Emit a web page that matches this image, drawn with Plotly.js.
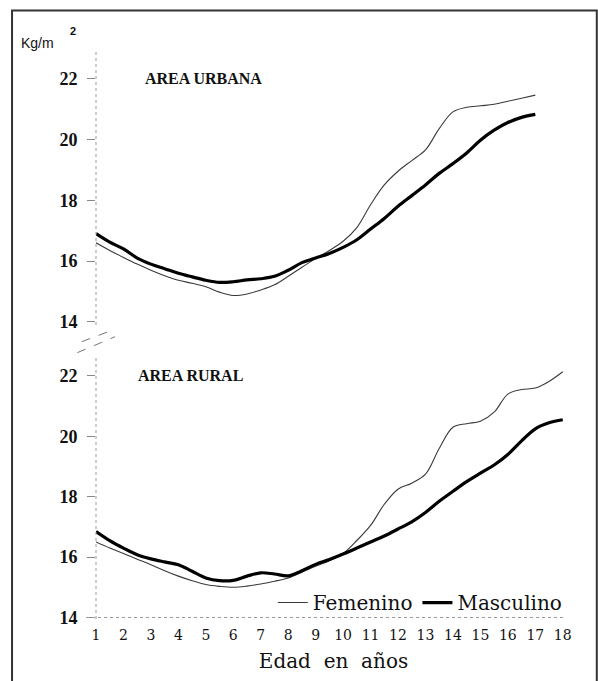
<!DOCTYPE html>
<html>
<head>
<meta charset="utf-8">
<script src="https://cdn.plot.ly/plotly-3.0.1.min.js"></script>
<style>html,body{margin:0;padding:0;background:#fff;}#chart{width:598px;height:681px;}</style>
</head>
<body>
<div id="chart"></div>
<script>
// Ages (years)
const edadUrbana = [1,1.5,2,2.5,3,3.5,4,4.5,5,5.5,6,6.5,7,7.5,8,8.5,9,9.5,10,10.5,11,11.5,12,12.5,13,13.5,14,14.5,15,15.5,16,16.5,17];
const edadRural  = [1,1.5,2,2.5,3,3.5,4,4.5,5,5.5,6,6.5,7,7.5,8,8.5,9,9.5,10,10.5,11,11.5,12,12.5,13,13.5,14,14.5,15,15.5,16,16.5,17,17.5,18];

// BMI (kg/m2) - Area urbana
const femUrbana  = [16.6,16.35,16.12,15.9,15.7,15.52,15.37,15.27,15.16,14.98,14.87,14.92,15.05,15.22,15.5,15.8,16.08,16.35,16.65,17.1,17.85,18.5,18.95,19.3,19.65,20.35,20.9,21.05,21.1,21.15,21.25,21.35,21.45];
const mascUrbana = [16.9,16.62,16.4,16.1,15.9,15.75,15.6,15.48,15.37,15.3,15.32,15.38,15.42,15.5,15.7,15.95,16.1,16.25,16.45,16.7,17.05,17.4,17.8,18.15,18.5,18.88,19.2,19.55,19.97,20.3,20.55,20.72,20.82];

// BMI (kg/m2) - Area rural
const femRural  = [16.5,16.3,16.12,15.93,15.75,15.55,15.37,15.22,15.09,15.03,15.0,15.04,15.11,15.2,15.31,15.5,15.7,15.88,16.12,16.55,17.05,17.75,18.25,18.45,18.75,19.6,20.3,20.42,20.5,20.8,21.4,21.55,21.6,21.82,22.14];
const mascRural = [16.85,16.55,16.3,16.08,15.94,15.84,15.75,15.53,15.31,15.22,15.23,15.37,15.48,15.44,15.38,15.55,15.76,15.92,16.1,16.3,16.5,16.7,16.93,17.17,17.48,17.85,18.18,18.5,18.78,19.05,19.4,19.85,20.25,20.45,20.55];

const xTicks = [1,2,3,4,5,6,7,8,9,10,11,12,13,14,15,16,17,18];
const yTicks = [14,16,18,20,22];
const seriesNames = ['Femenino','Masculino'];

// layout geometry (pixels)
const W = 598, H = 681;
const L = 96, R = 571.2, T = 50.5, B = 619.5;
const px = v => (v - L) / (R - L);
const py = v => (B - v) / (B - T);

const femLine  = {color:'#3a3a3a', width:1.1, shape:'spline', smoothing:1};
const mascLine = {color:'#000', width:3.2, shape:'spline', smoothing:1};

const traces = [
  {x: edadUrbana, y: femUrbana,  xaxis:'x', yaxis:'y',  mode:'lines', name: seriesNames[0], line: femLine,  legendrank:1},
  {x: edadUrbana, y: mascUrbana, xaxis:'x', yaxis:'y',  mode:'lines', name: seriesNames[1], line: mascLine, legendrank:2},
  {x: edadRural,  y: femRural,   xaxis:'x', yaxis:'y2', mode:'lines', name: seriesNames[0], line: femLine,  showlegend:false},
  {x: edadRural,  y: mascRural,  xaxis:'x', yaxis:'y2', mode:'lines', name: seriesNames[1], line: mascLine, showlegend:false}
];

const yTickFont = {family:'"Liberation Serif", serif', size:18, color:'#111', weight:'bold'};
const yAxisCommon = {
  anchor:'x', showgrid:false, zeroline:false, showline:false,
  tickvals: yTicks, ticks:'outside', ticklen:8, tickwidth:1, tickcolor:'#888',
  tickfont: yTickFont, ticklabelstandoff: 6, fixedrange:true
};

const dot = {color:'#999', width:1, dash:'dot'};
const shapes = [
  // outer frame
  {type:'rect', xref:'paper', yref:'paper', x0:px(12), x1:px(597), y0:py(684), y1:py(10), line:{color:'#333', width:2}},
  // y axis lines
  {type:'line', xref:'paper', yref:'y domain', x0:0, x1:0, y0:0, y1:1, line:dot},
  {type:'line', xref:'paper', yref:'y2 domain', x0:0, x1:0, y0:0, y1:1, line:dot},
  // x axis line (dotted)
  {type:'line', xref:'paper', yref:'paper', x0:px(86), x1:px(566), y0:py(618), y1:py(618), line:dot},
  // axis break marks
  {type:'line', xref:'paper', yref:'paper', x0:px(81.7), x1:px(111), y0:py(341.7), y1:py(330.7), line:{color:'#777', width:1, dash:'dash'}},
  {type:'line', xref:'paper', yref:'paper', x0:px(77.3), x1:px(115), y0:py(352.7), y1:py(336.7), line:{color:'#777', width:1, dash:'dash'}}
];

const titleFont = {family:'"Liberation Serif", serif', size:16, color:'#111', weight:'bold'};
const annotations = [
  {text:'AREA URBANA', xref:'paper', yref:'paper', x:px(204), y:py(78), showarrow:false, font:titleFont, xanchor:'center', yanchor:'middle'},
  {text:'AREA RURAL',  xref:'paper', yref:'paper', x:px(191), y:py(376), showarrow:false, font:titleFont, xanchor:'center', yanchor:'middle'},
  {text:'Kg/m', xref:'paper', yref:'paper', x:px(19), y:py(42), showarrow:false, xanchor:'left', yanchor:'middle',
   font:{family:'"Liberation Sans", Arial, sans-serif', size:14, color:'#111'}},
  {text:'2', xref:'paper', yref:'paper', x:px(73), y:py(30), showarrow:false, xanchor:'center', yanchor:'middle',
   font:{family:'"Liberation Sans", Arial, sans-serif', size:11, color:'#111', weight:'bold'}}
];

const layout = {
  width: W, height: H, autosize:false,
  margin: {l:L, r:W-R, t:T, b:H-B, pad:0},
  paper_bgcolor:'#fff', plot_bgcolor:'#fff',
  showlegend:true,
  legend: {orientation:'h', x:px(568), xanchor:'right', y:py(603), yanchor:'middle',
           font:{family:'"DejaVu Serif", serif', size:20, color:'#111'},
           bgcolor:'rgba(0,0,0,0)', itemwidth:30, traceorder:'normal'},
  xaxis: {
    anchor:'y2', domain:[0,1], range:[1,18.3], showgrid:false, zeroline:false, showline:false,
    tickvals:xTicks, ticks:'', ticklabelstandoff:6,
    tickfont:{family:'"DejaVu Serif", serif', size:14, color:'#111'},
    title:{text:'Edad  en  años', standoff:11, font:{family:'"DejaVu Serif", serif', size:20, color:'#111'}},
    fixedrange:true
  },
  yaxis: Object.assign({}, yAxisCommon, {domain:[py(325), 1], range:[13.9,22.9]}),
  yaxis2: Object.assign({}, yAxisCommon, {domain:[0, py(357.9)], range:[13.95,22.6]}),
  shapes: shapes,
  annotations: annotations
};

Plotly.newPlot('chart', traces, layout, {displayModeBar:false, staticPlot:true});
</script>
</body>
</html>
